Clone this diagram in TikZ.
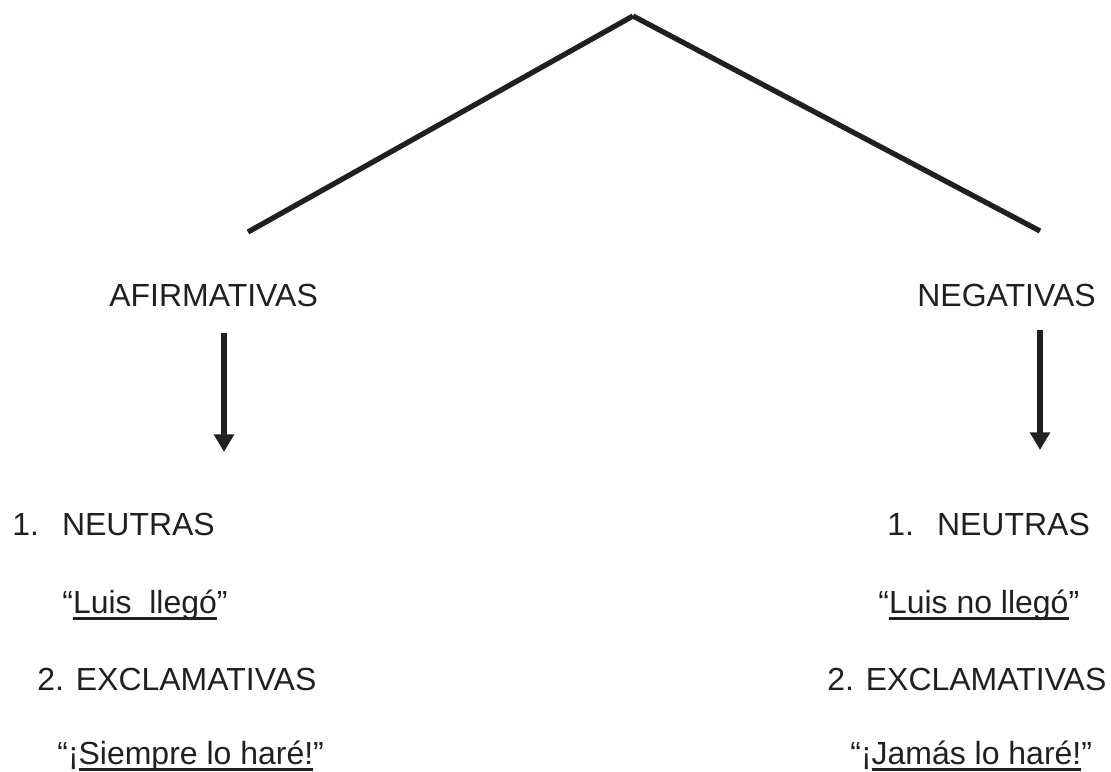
\documentclass[tikz,border=0pt]{standalone}
\usepackage{fontspec}
\setmainfont{Liberation Sans}
\usetikzlibrary{arrows.meta}
\definecolor{ink}{RGB}{35,31,32}
\newcommand{\subr}[1]{\setbox0\hbox{#1}\rlap{\rule[-4pt]{\wd0}{1.6pt}}\box0}

\begin{document}
\begin{tikzpicture}[x=0.02cm, y=-0.02cm, ink,
  txt/.style={inner sep=0pt, anchor=base west, font=\fontsize{18.2}{22}\selectfont},
  bar/.style={line width=3pt},
  down/.style={line width=3pt, -{Triangle[width=11pt,length=10pt]}}]
  \useasboundingbox (0,0) rectangle (1111,771);
  % top of the tree
  \coordinate (top) at (633,16);
  \coordinate (leftend) at (248,232);
  \coordinate (rightend) at (1040,231);
  \draw[bar] (top) -- (leftend);
  \draw[bar] (top) -- (rightend);
  % the two kinds
  \node[txt] (afirm) at (109,306) {AFIRMATIVAS};
  \node[txt] (negat) at (917,306) {NEGATIVAS};
  \coordinate (afirmtop) at (224,333);
  \coordinate (afirmbot) at (224,452);
  \coordinate (negattop) at (1040,330);
  \coordinate (negatbot) at (1040,450);
  \draw[down] (afirmtop) -- (afirmbot);
  \draw[down] (negattop) -- (negatbot);
  % left column
  \node[txt] (aneutras) at (12,535) {1.\hspace{0.72em}NEUTRAS};
  \node[txt] (aejuno) at (62,613) {“\subr{Luis\ \ llegó}”};
  \node[txt] (aexclam) at (37,690) {2. EXCLAMATIVAS};
  \node[txt] (aejdos) at (57,764) {“¡\subr{Siempre lo haré!}”};
  % right column
  \node[txt] (nneutras) at (887,535) {1.\hspace{0.72em}NEUTRAS};
  \node[txt] (nejuno) at (878,613) {“\subr{Luis no llegó}”};
  \node[txt] (nexclam) at (827,690) {2. EXCLAMATIVAS};
  \node[txt] (nejdos) at (850,764) {“¡\subr{Jamás lo haré!}”};
\end{tikzpicture}
\end{document}
